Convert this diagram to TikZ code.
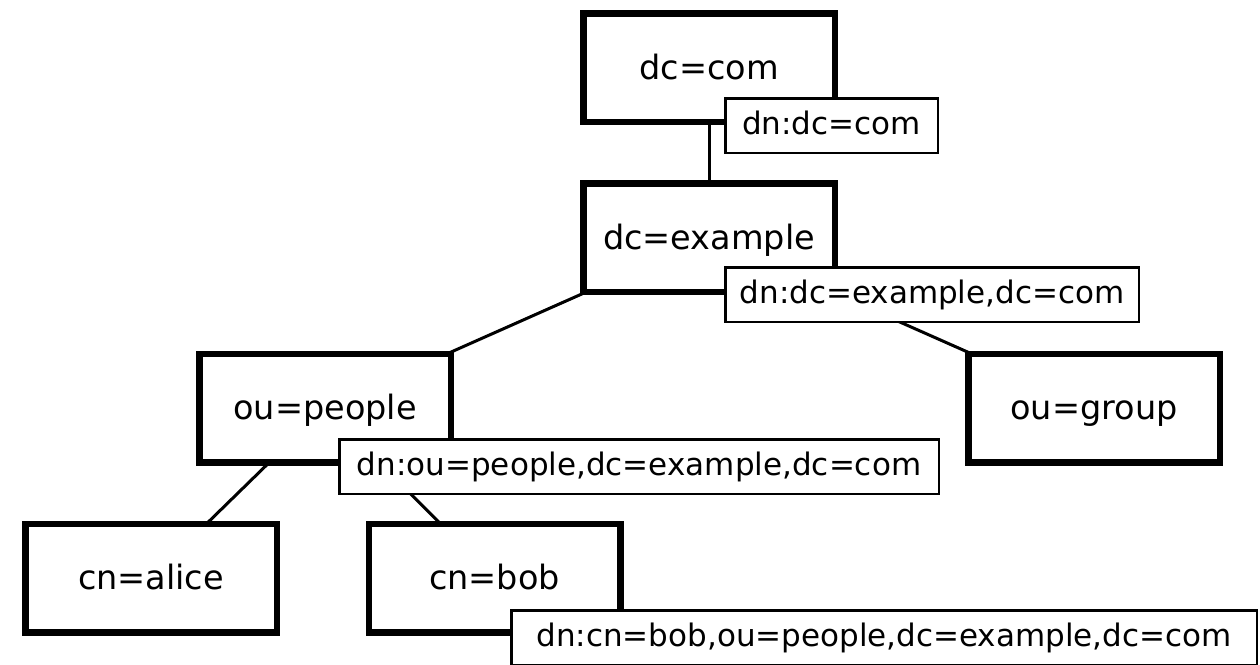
\documentclass[tikz,border=0pt]{standalone}
\usepackage{fontspec}
\setmainfont{DejaVu Sans}
\usetikzlibrary{backgrounds}
\begin{document}
\begin{tikzpicture}[x=1pt,y=-1pt,
  entry/.style={draw, line width=6.5pt, fill=white,
    minimum width=251.5pt, minimum height=108.5pt, inner sep=0pt,
    text height=23pt, text depth=0pt,
    font=\fontsize{33.5}{40}\selectfont},
  dnlabel/.style={draw, line width=2.5pt, fill=white, anchor=north west,
    minimum height=54.5pt, inner sep=0pt,
    text height=17pt, text depth=0pt,
    font=\fontsize{31}{37}\selectfont},
  link/.style={line width=3pt}]
\useasboundingbox (0,0) rectangle (1260,664);

% directory entries
\node[entry] (com)     at (709,67.5)   {dc=com};
\node[entry] (example) at (709,237.5)  {dc=example};
\node[entry] (people)  at (325,408)    {ou=people};
\node[entry] (group)   at (1094,408)   {ou=group};
\node[entry] (alice)   at (151,578)    {cn=alice};
\node[entry] (bob)     at (494.5,578)  {cn=bob};

% tree edges, centre to centre, behind the boxes
\begin{pgfonlayer}{background}
\draw[link] (com.center) -- (example.center);
\draw[link] (example.center) -- (people.center);
\draw[link] (example.center) -- (group.center);
\draw[link] (people.center) -- (alice.center);
\draw[link] (people.center) -- (bob.center);
\end{pgfonlayer}

% distinguished-name tags
\node[dnlabel, minimum width=212.5pt] (dncom)     at (724,97)  {dn:dc=com};
\node[dnlabel, minimum width=413.5pt] (dnexample) at (724,266) {dn:dc=example,dc=com};
\node[dnlabel, minimum width=599.5pt] (dnpeople)  at (338,438) {dn:ou=people,dc=example,dc=com};
\node[dnlabel, minimum width=745.5pt] (dnbob)     at (510,609) {dn:cn=bob,ou=people,dc=example,dc=com};
\end{tikzpicture}
\end{document}
